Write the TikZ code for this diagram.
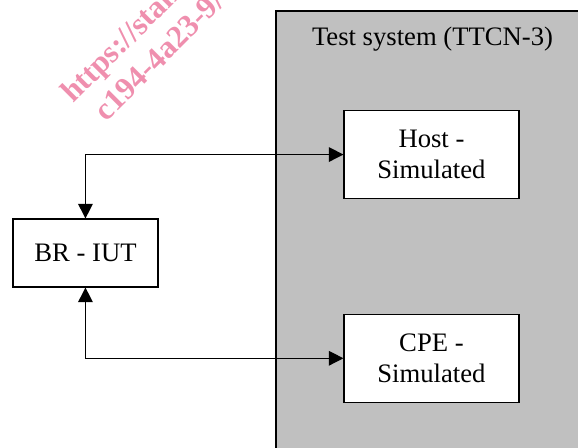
\documentclass[tikz,border=0pt]{standalone}
\usepackage{fontspec}
\setmainfont{Liberation Serif}
\usetikzlibrary{arrows.meta, positioning}
\definecolor{SystemGray}{HTML}{C0C0C0}
\definecolor{MarkPink}{HTML}{EF8FAE}

\begin{document}
\begin{tikzpicture}[
        >={Triangle[length=11pt, width=11pt]},
        entity/.style = {rectangle, draw=black, fill=white, line width=0.8pt, align=center, inner sep=2pt, font=\fontsize{20}{23.3}\selectfont},
        simulated/.style = {entity, minimum width=131.25pt, minimum height=66pt},
        iut/.style = {entity, minimum width=108.75pt, minimum height=51pt},
        system/.style = {rectangle, draw=black, fill=SystemGray, line width=1.5pt, anchor=north west, minimum width=260pt, minimum height=360pt},
        watermark/.style = {rotate=45, anchor=base west, inner sep=0pt, text=MarkPink, font=\fontsize{23.5}{27}\selectfont\bfseries},
        link/.style = {draw, <->, line width=1pt, black}
    ]
        \useasboundingbox (0,0) rectangle (433.5pt,-335.25pt);
        \node [watermark] (url) at (55pt,-78pt) {https://stan};
        \node [watermark] (code) at (80pt,-92pt) {c194-4a23-9/};

        \node [system] (ts) at (206.25pt,-7.5pt) {};
        \node [anchor=base, font=\fontsize{20}{23.3}\selectfont] (tstitle) at (324.4pt,-33.75pt) {Test system (TTCN-3)};

        \node [simulated] (host) at (323.6pt,-115.9pt) {Host -\\ Simulated};
        \node [simulated, below=86pt of host] (cpe) {CPE -\\ Simulated};
        \node [iut] (br) at (64.1pt,-189.75pt) {BR - IUT};

        \draw [link] (br.north) |- (host.west);
        \draw [link] (br.south) |- (cpe.west);
    \end{tikzpicture}
\end{document}
